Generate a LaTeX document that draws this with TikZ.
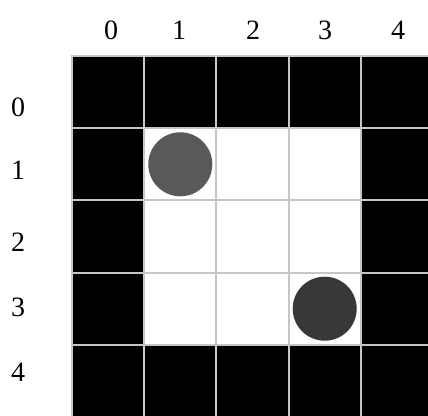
\documentclass[tikz,border=0pt]{standalone}
\usepackage{fontspec}
\setmainfont{Liberation Serif}
\tikzset{
  wallcell/.style={rectangle,draw=gray!45,line width=2pt,fill=black,
    minimum size=72.2pt,inner sep=0pt},
  freecell/.style={rectangle,draw=gray!45,line width=2pt,fill=white,
    minimum size=72.2pt,inner sep=0pt},
  idxlabel/.style={font=\fontsize{28}{28}\selectfont,inner sep=0pt},
  robot/.style={circle,minimum size=64pt,inner sep=0pt},
}

\begin{document}
\begin{tikzpicture}[x=1pt,y=-1pt]
  \useasboundingbox (0,0) rectangle (428,415);
  \clip (0,0) rectangle (428,415);
  % cells of the map
  \foreach \r in {0,...,4}
    \foreach \c in {0,...,4} {
      \pgfmathtruncatemacro\wall{or(or(\r==0,\r==4),or(\c==0,\c==4))}
      \ifnum\wall=1
        \node[wallcell] (cell-\r-\c) at ({108.1+72.2*\c},{92.1+72.2*\r}) {};
      \else
        \node[freecell] (cell-\r-\c) at ({108.1+72.2*\c},{92.1+72.2*\r}) {};
      \fi
    }
  % column and row indices
  \foreach \c/\x in {0/111,1/179,2/253,3/325,4/398}
    \node[idxlabel] (col-\c) at (\x,30) {\c};
  \foreach \r/\y in {0/107,1/170,2/242,3/307,4/372}
    \node[idxlabel] (row-\r) at (18,\y) {\r};
  % agents
  \node[robot,fill=black!65] (agentA) at (cell-1-1) {};
  \node[robot,fill=black!78] (agentB) at (cell-3-3) {};
\end{tikzpicture}
\end{document}
